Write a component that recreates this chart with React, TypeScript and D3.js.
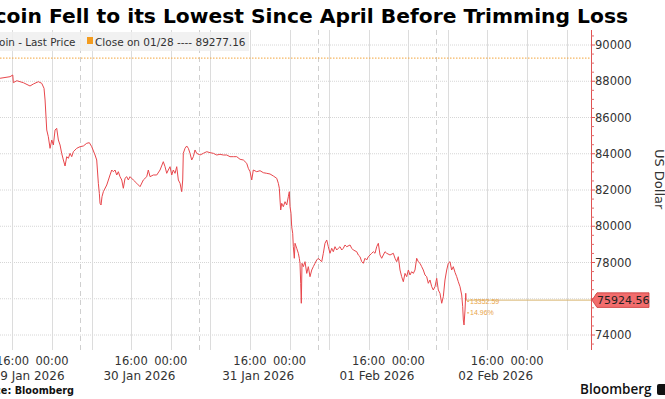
import React from "react";
import * as d3 from "d3";

const W = 665;
const H = 399;

const title = "Bitcoin Fell to its Lowest Since April Before Trimming Loss";
const seriesName = "Bitcoin - Last Price";
const refLabel = "Close on 01/28 ---- 89277.16";
const refValue = 89277.16;
const lastValue = 75924.56;
const changeAbs = "13352.59";
const changePct = "14.96%";
const yTicks = [74000, 76000, 78000, 80000, 82000, 84000, 86000, 88000, 90000];
const yTitle = "US Dollar";
const sourceText = "Source: Bloomberg";

// hours elapsed since 2026-01-29 00:00
const hours = [
  13.49, 15.51, 16.06, 16.18, 16.87, 18.2, 19.55, 20.22, 21.23, 21.92, 22.38, 22.59, 22.93, 23.25, 23.6, 23.94,
  24.27, 24.61, 24.94, 25.28, 25.62, 25.95, 26.29, 26.63, 26.97, 27.3, 27.64, 27.98, 28.31, 28.99, 29.66, 30.33,
  31.01, 31.54, 32.02, 32.69, 33.03, 33.36, 33.56, 33.7, 33.9, 34.1, 34.37, 35.06, 35.72, 36.07, 36.39, 36.73,
  37.08, 37.4, 37.74, 38.09, 38.41, 38.75, 39.1, 39.42, 39.76, 40.43, 41.12, 41.79, 42.45, 43.14, 43.46, 43.81,
  44.47, 45.16, 45.83, 46.49, 46.84, 47.18, 47.5, 47.85, 48.19, 48.51, 48.86, 49.2, 49.53, 49.87, 50.21, 50.41,
  50.53, 50.88, 51.22, 51.55, 51.89, 52.23, 52.56, 52.9, 53.24, 53.91, 54.58, 55.27, 55.93, 56.6, 57.29, 57.95,
  58.62, 59.31, 59.97, 60.64, 61.33, 62.0, 62.67, 63.35, 63.67, 64.02, 64.36, 64.68, 65.37, 66.04, 66.71, 67.39,
  68.06, 68.73, 69.41, 69.74, 69.94, 70.08, 70.22, 70.42, 70.75, 71.09, 71.43, 71.76, 71.96, 72.1, 72.3, 72.44,
  72.64, 72.77, 72.97, 73.11, 73.45, 73.78, 73.98, 74.12, 74.26, 74.38, 74.52, 74.79, 75.13, 75.48, 75.8, 76.14,
  76.49, 76.81, 77.15, 77.5, 77.82, 78.16, 78.51, 78.83, 79.17, 79.52, 79.84, 80.18, 80.53, 80.85, 81.19, 81.54,
  81.86, 82.2, 82.55, 82.87, 83.21, 83.56, 84.23, 84.57, 84.89, 85.58, 85.9, 86.25, 86.59, 86.91, 87.26, 87.6,
  87.93, 88.27, 88.61, 88.94, 89.28, 89.62, 89.95, 90.29, 90.63, 90.96, 91.3, 91.64, 92.31, 92.98, 93.32, 93.66,
  93.99, 94.33, 94.67, 95.0, 95.34, 95.68, 96.02, 96.35, 96.69, 97.02, 97.36, 97.7, 98.03, 98.37, 98.71, 99.04,
  99.38, 99.72, 100.05, 100.39, 100.74, 101.06, 101.4, 101.75, 102.07, 102.41, 102.76, 103.08, 103.42, 103.77, 104.09, 104.43,
  104.77, 105.1, 105.45, 105.79, 106.11, 106.46, 106.8, 107.0, 107.13, 107.27, 107.47, 107.62, 107.68,
];
const prices = [
  88163, 88251, 88345, 87920, 88030, 87920, 87738, 87848, 87975, 87887, 87611, 86966, 85310, 84941, 84300, 84759,
  84483, 85310, 85404, 84759, 84483, 84024, 83655, 83324, 83838, 83749, 84024, 83838, 84114, 84300, 84389, 84428,
  84577, 84610, 84389, 83931, 83655, 82370, 81818, 81267, 81173, 81631, 81907, 82276, 82828, 83103, 83010, 83103,
  82828, 83010, 82735, 82552, 82094, 82646, 82735, 82552, 82735, 82552, 82370, 82183, 82552, 82735, 83103, 82735,
  82828, 82828, 83103, 83562, 83286, 82920, 83103, 83286, 82828, 83103, 82920, 83286, 82552, 82370, 81907, 82552,
  84024, 84300, 84428, 84300, 84024, 83655, 83838, 84207, 84024, 83931, 84024, 84114, 84058, 84024, 83931, 83970,
  83931, 83931, 83838, 83838, 83838, 83694, 83655, 83473, 83197, 83010, 82552, 83103, 83010, 83065, 82955, 82920,
  82883, 82773, 82646, 82370, 82094, 81449, 80897, 81267, 81079, 81355, 81173, 81631, 81907, 81079, 80715, 79975,
  79611, 78872, 78232, 79060, 78784, 78508, 78232, 77956, 76853, 75750, 77956, 77769, 78045, 77400, 77769, 77217,
  77587, 77769, 77956, 78138, 78232, 78138, 78045, 78508, 79060, 79242, 78872, 78508, 78784, 78596, 78872, 78690,
  78784, 78872, 78690, 78784, 78966, 78872, 78966, 78784, 78690, 78596, 78414, 78320, 78045, 77956, 78232, 78138,
  78320, 78414, 78508, 78596, 78508, 78872, 79060, 78414, 78232, 78414, 78596, 78508, 78414, 78508, 78232, 78045,
  78320, 77587, 77217, 76941, 77400, 77217, 77587, 77311, 77493, 77400, 77587, 78232, 78045, 77956, 77769, 77587,
  77311, 77217, 76853, 77035, 76665, 76483, 76665, 77129, 76483, 76301, 75750, 76113, 77035, 77587, 77956, 78045,
  77587, 77769, 77455, 77217, 76941, 76665, 76208, 75562, 74828, 74552, 75380, 76301, 75924.56,
];

const axisStart = "2026-01-29T08:50";
const axisEnd = "2026-02-03T12:56";
const labeledTicks = [
  "2026-01-29T16:00", "2026-01-30T00:00", "2026-01-30T16:00", "2026-01-31T00:00", "2026-01-31T16:00",
  "2026-02-01T00:00", "2026-02-01T16:00", "2026-02-02T00:00", "2026-02-02T16:00", "2026-02-03T00:00",
];
const gridTicks = [
  "2026-01-29T16:00", "2026-01-30T00:00", "2026-01-30T08:00", "2026-01-30T16:00", "2026-01-31T00:00",
  "2026-01-31T08:00", "2026-01-31T16:00", "2026-02-01T00:00", "2026-02-01T08:00", "2026-02-01T16:00",
  "2026-02-02T00:00", "2026-02-02T08:00", "2026-02-02T16:00", "2026-02-03T00:00", "2026-02-03T08:00",
];
const dayBoundaries = ["2026-01-30T05:40", "2026-01-31T05:40", "2026-02-01T05:40", "2026-02-02T05:40", "2026-02-03T05:40"];
const dateLabels = ["29 Jan 2026", "30 Jan 2026", "31 Jan 2026", "01 Feb 2026", "02 Feb 2026"];

const parse = d3.timeParse("%Y-%m-%dT%H:%M");
const base = parse("2026-01-29T00:00") as Date;

export default function App() {
  const plotTop = 30;
  const plotBottom = 350;
  const plotRight = 591;
  const x = d3
    .scaleTime()
    .domain([parse(axisStart) as Date, parse(axisEnd) as Date])
    .range([-23, plotRight]);
  const y = d3.scaleLinear().domain([74000, 90000]).range([335, 45]);

  const data = hours.map((h, i) => ({ t: new Date(base.getTime() + h * 3600e3), v: prices[i] }));
  const line = d3
    .line<{ t: Date; v: number }>()
    .x((d) => x(d.t))
    .y((d) => y(d.v));

  const lastX = x(data[data.length - 1].t);
  const lastY = y(lastValue);
  const refY = y(refValue);

  const minorTicks = d3.range(73500, 90501, 500).filter((v) => v % 2000 !== 0);

  const bounds = [parse(axisStart) as Date, ...dayBoundaries.map((s) => parse(s) as Date)];
  const font = "'DejaVu Sans', Verdana, sans-serif";

  return (
    <svg width={W} height={H} style={{ display: "block", position: "absolute", left: 0, top: 0, background: "#fff" }}>
      <rect x={0} y={0} width={W} height={H} fill="#fff" />
      {/* title */}
      <text x={628} y={23} textAnchor="end" fontFamily={font} fontWeight="bold" fontSize={20.25} fill="#000">
        {title}
      </text>

      {/* horizontal gridlines */}
      {yTicks.map((v) => (
        <line key={"hg" + v} x1={0} x2={plotRight} y1={y(v)} y2={y(v)} stroke="#d6d6d6" strokeDasharray="1,1" />
      ))}
      {/* vertical gridlines */}
      {gridTicks.map((s) => {
        const xx = Math.round(x(parse(s) as Date)) + 0.5;
        return <line key={"vg" + s} x1={xx} x2={xx} y1={plotTop} y2={plotBottom} stroke="#dcdcdc" />;
      })}
      {dayBoundaries.slice(0, 4).map((s) => {
        const xx = Math.round(x(parse(s) as Date)) + 0.5;
        return (
          <line key={"db" + s} x1={xx} x2={xx} y1={plotTop} y2={plotBottom} stroke="#cfcfcf" strokeDasharray="5,4" />
        );
      })}

      {/* reference close line */}
      <line x1={0} x2={plotRight} y1={refY} y2={refY} stroke="#f2a33a" strokeDasharray="1.5,1.5" />

      {/* legend band */}
      <rect x={-10} y={32} width={259} height={19} fill="#efefef" opacity={0.85} />
      <text x={75.5} y={46} textAnchor="end" fontFamily={font} fontSize={10.4} fill="#333">
        {seriesName}
      </text>
      <rect x={87} y={37} width={6} height={7} fill="#f39c1f" />
      <text x={95} y={46} fontFamily={font} fontSize={10.5} fill="#333">
        {refLabel}
      </text>

      {/* price line */}
      <path d={line(data) || ""} fill="none" stroke="#e8474c" strokeWidth={1} strokeLinejoin="round" />

      {/* last value line */}
      <line x1={lastX} x2={plotRight} y1={lastY} y2={lastY} stroke="#d8b46e" strokeWidth={1} />
      <line x1={lastX + 1} x2={lastX + 3} y1={y(75860)} y2={y(75860)} stroke="#e9a54a" />
      <line x1={lastX + 1} x2={lastX + 3} y1={y(75220)} y2={y(75220)} stroke="#e9a54a" />
      <text x={lastX + 4} y={y(75860) + 2.5} fontFamily="'Liberation Sans', Arial, sans-serif" fontSize={7} fill="#e9a54a">
        {changeAbs}
      </text>
      <text x={lastX + 4} y={y(75220) + 2.5} fontFamily="'Liberation Sans', Arial, sans-serif" fontSize={7} fill="#e9a54a">
        {changePct}
      </text>

      {/* right axis */}
      <line x1={plotRight + 0.5} x2={plotRight + 0.5} y1={plotTop} y2={plotBottom} stroke="#e05252" />
      {minorTicks.map((v) => (
        <line key={"mt" + v} x1={plotRight} x2={plotRight + 3} y1={y(v)} y2={y(v)} stroke="#e06a6a" />
      ))}
      {yTicks.map((v) => (
        <g key={"yt" + v}>
          <line x1={plotRight} x2={plotRight + 4} y1={y(v)} y2={y(v)} stroke="#e05252" />
          <text x={595} y={y(v) + 4} fontFamily={font} fontSize={11.5} fill="#333">
            {v}
          </text>
        </g>
      ))}
      <text
        transform={`translate(655, ${y(82600)}) rotate(90)`}
        textAnchor="middle"
        fontFamily={font}
        fontSize={13}
        fill="#333"
      >
        {yTitle}
      </text>

      {/* last value tag */}
      <path
        d={`M${plotRight + 1},${lastY} L${plotRight + 6},${lastY - 7.3} L${649},${lastY - 7.3} L${649},${lastY + 7.3} L${plotRight + 6},${lastY + 7.3} Z`}
        fill="#f26d6d"
        stroke="#c83a3a"
        strokeWidth={0.8}
      />
      <text x={597} y={lastY + 4} fontFamily={font} fontSize={11} fill="#222">
        {lastValue.toFixed(2)}
      </text>

      {/* x axis labels */}
      {labeledTicks.map((s) => (
        <text key={"xl" + s} x={x(parse(s) as Date)} y={365} textAnchor="middle" fontFamily={font} fontSize={11.5} fill="#333">
          {d3.timeFormat("%H:%M")(parse(s) as Date)}
        </text>
      ))}
      {dateLabels.map((lbl, i) => {
        const a = x(bounds[i]);
        const b = x(bounds[i + 1]);
        return (
          <text key={"dl" + lbl} x={(a + b) / 2} y={380} textAnchor="middle" fontFamily={font} fontSize={12} fill="#333">
            {lbl}
          </text>
        );
      })}

      {/* footer */}
      <text x={74} y={394} textAnchor="end" fontFamily={font} fontWeight="bold" fontSize={9.7} fill="#111">
        {sourceText}
      </text>
      <text x={580} y={394} fontFamily="'Open Sans', 'DejaVu Sans', sans-serif" fontWeight={600} fontSize={13.5} fill="#111">
        Bloomberg
      </text>
      <rect x={657} y={384} width={10} height={11} rx={2} fill="#111" />
    </svg>
  );
}
